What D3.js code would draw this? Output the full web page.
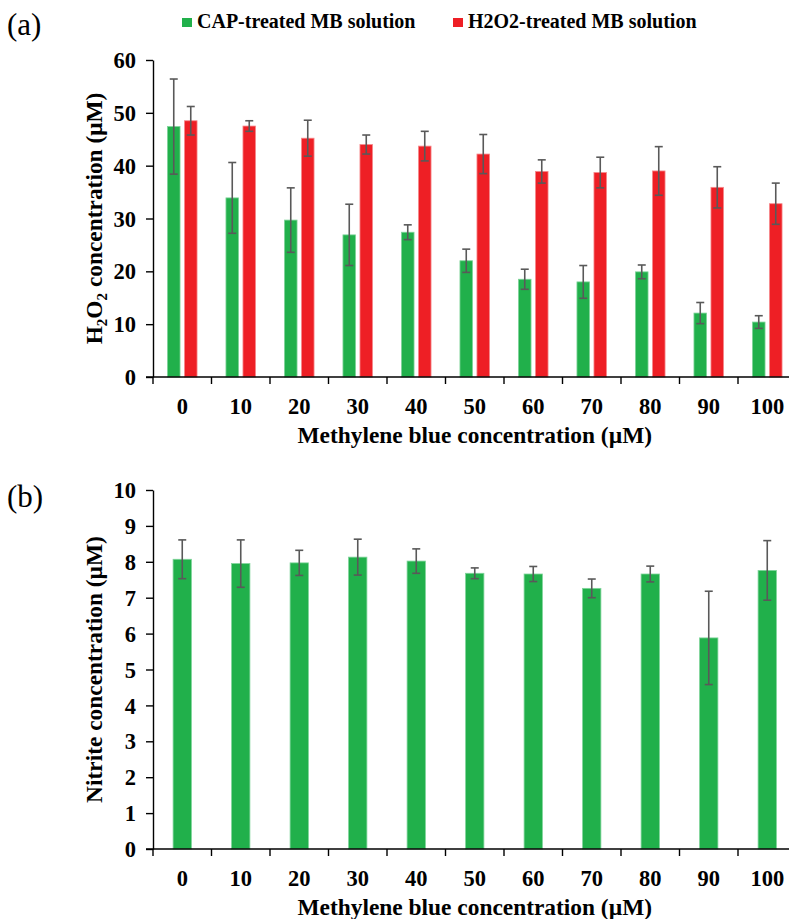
<!DOCTYPE html>
<html>
<head>
<meta charset="utf-8">
<script src="https://cdn.jsdelivr.net/npm/d3@7"></script>
<style>
  html, body { margin: 0; padding: 0; background: #fff; }
  svg { display: block; }
  text { font-family: "Liberation Serif", "Times New Roman", serif; }
</style>
</head>
<body>
<svg id="chart" width="789" height="919"></svg>
<script>
// ---------- DATA ----------
const categories = ["0", "10", "20", "30", "40", "50", "60", "70", "80", "90", "100"];
const seriesNames = ["CAP-treated MB solution", "H2O2-treated MB solution"];
const capH2O2 = [47.4, 33.9, 29.7, 26.9, 27.4, 22.0, 18.5, 18.0, 19.9, 12.1, 10.4];
const capH2O2Err = [9.0, 6.7, 6.1, 5.8, 1.4, 2.2, 1.9, 3.1, 1.3, 2.0, 1.2];
const h2o2H2O2 = [48.5, 47.5, 45.2, 44.0, 43.7, 42.2, 38.9, 38.7, 39.0, 35.9, 32.8];
const h2o2H2O2Err = [2.7, 1.0, 3.4, 1.8, 2.8, 3.7, 2.2, 2.9, 4.6, 3.9, 3.9];
const nitrite = [8.07, 7.95, 7.97, 8.13, 8.02, 7.68, 7.66, 7.26, 7.66, 5.88, 7.76];
const nitriteErr = [0.54, 0.66, 0.35, 0.50, 0.34, 0.15, 0.21, 0.26, 0.22, 1.30, 0.83];
const ticksA = [0, 10, 20, 30, 40, 50, 60];
const ticksB = [0, 1, 2, 3, 4, 5, 6, 7, 8, 9, 10];

// ---------- STYLE ----------
const GREEN = "#21B04B", RED = "#EE1F25", ERR = "#595959";
const svg = d3.select("#chart");
const left = 153, right = 796.5;

function drawPanel(cfg) {
  const g = svg.append("g");
  const x0 = d3.scaleBand().domain(categories).range([left, right]).padding(0);
  const y = d3.scaleLinear().domain(cfg.domain).range([cfg.bottom, cfg.top]);
  const x1 = d3.scaleBand().domain(cfg.series.map(s => s.name)).range([0, x0.bandwidth()])
    .paddingInner(cfg.pi).paddingOuter(cfg.po);

  cfg.series.forEach(s => {
    const gs = g.append("g");
    gs.selectAll("rect").data(categories).join("rect")
      .attr("x", d => x0(d) + x1(s.name))
      .attr("width", x1.bandwidth())
      .attr("y", (d, i) => y(s.values[i]))
      .attr("height", (d, i) => y(0) - y(s.values[i]))
      .attr("fill", s.color)
      .attr("stroke", s.edge).attr("stroke-width", 0.8);
    const cx = d => x0(d) + x1(s.name) + x1.bandwidth() / 2;
    gs.selectAll("line.v").data(categories).join("line").attr("class", "v")
      .attr("x1", cx).attr("x2", cx)
      .attr("y1", (d, i) => y(s.values[i] + s.err[i]))
      .attr("y2", (d, i) => y(s.values[i] - s.err[i]))
      .attr("stroke", ERR).attr("stroke-width", 1.6);
    [1, -1].forEach(sign => {
      gs.selectAll("line.c" + sign).data(categories).join("line").attr("class", "c" + sign)
        .attr("x1", d => cx(d) - 4).attr("x2", d => cx(d) + 4)
        .attr("y1", (d, i) => y(s.values[i] + sign * s.err[i]))
        .attr("y2", (d, i) => y(s.values[i] + sign * s.err[i]))
        .attr("stroke", ERR).attr("stroke-width", 1.6);
    });
  });

  const ya = g.append("g").attr("transform", `translate(${left},0)`)
    .call(d3.axisLeft(y).tickValues(cfg.ticks).tickSize(7).tickPadding(10).tickSizeOuter(0));
  ya.select(".domain").attr("stroke", "#000").attr("stroke-width", 1.4);
  ya.selectAll(".tick line").attr("stroke", "#000").attr("stroke-width", 1.4);
  ya.selectAll(".tick text").attr("font-family", "Liberation Serif, serif")
    .attr("font-weight", "bold").attr("font-size", 22.5).attr("fill", "#000").attr("dy", "0.34em");

  const xa = g.append("g").attr("transform", `translate(0,${y(0)})`)
    .call(d3.axisBottom(x0).tickSize(0).tickPadding(21).tickSizeOuter(0));
  xa.select(".domain").remove();
  xa.selectAll(".tick text").attr("font-family", "Liberation Serif, serif")
    .attr("font-weight", "bold").attr("font-size", 22.5).attr("fill", "#000");
  g.append("line").attr("x1", left - 7).attr("x2", right).attr("y1", y(0)).attr("y2", y(0))
    .attr("stroke", "#000").attr("stroke-width", 1.4);
  const bounds = categories.map(d => x0(d)).concat([x0(categories[categories.length - 1]) + x0.bandwidth()]);
  g.selectAll("line.bt").data(bounds).join("line").attr("class", "bt")
    .attr("x1", d => d).attr("x2", d => d).attr("y1", y(0)).attr("y2", y(0) + 7)
    .attr("stroke", "#000").attr("stroke-width", 1.4);

  g.append("text").attr("x", (left + right) / 2).attr("y", cfg.xTitleY)
    .attr("text-anchor", "middle").attr("font-weight", "bold").attr("font-size", 23.4)
    .text("Methylene blue concentration (\u00B5M)");

  const yt = g.append("text")
    .attr("transform", `translate(102,${(cfg.top + cfg.bottom) / 2}) rotate(-90)`)
    .attr("text-anchor", "middle").attr("font-weight", "bold").attr("font-size", 23.4);
  cfg.yTitle(yt);

  svg.append("text").attr("x", 7).attr("y", cfg.labelY).attr("font-size", 31)
    .text(cfg.label);
}

drawPanel({
  domain: [0, 60], top: 60, bottom: 377, ticks: ticksA, pi: 0.26, po: 0.85,
  series: [
    { name: seriesNames[0], values: capH2O2, err: capH2O2Err, color: GREEN, edge: "#7fd49a" },
    { name: seriesNames[1], values: h2o2H2O2, err: h2o2H2O2Err, color: RED, edge: "#f58a8d" }
  ],
  xTitleY: 443, labelY: 35, label: "(a)",
  yTitle: t => {
    t.append("tspan").text("H");
    t.append("tspan").attr("font-size", 15).attr("dy", 5).text("2");
    t.append("tspan").attr("dy", -5).text("O");
    t.append("tspan").attr("font-size", 15).attr("dy", 5).text("2");
    t.append("tspan").attr("dy", -5).text(" concentration (\u03BCM)");
  }
});

drawPanel({
  domain: [0, 10], top: 490, bottom: 849, ticks: ticksB, pi: 0.687, po: 0.3435,
  series: [
    { name: seriesNames[0], values: nitrite, err: nitriteErr, color: GREEN, edge: "#7fd49a" }
  ],
  xTitleY: 915, labelY: 507, label: "(b)",
  yTitle: t => t.text("Nitrite concentration (\u00B5M)")
});

const legend = svg.append("g");
const legendItems = [
  { name: seriesNames[0], color: GREEN, x: 182 },
  { name: seriesNames[1], color: RED, x: 453 }
];
legendItems.forEach(it => {
  legend.append("rect").attr("x", it.x).attr("y", 18).attr("width", 10).attr("height", 9)
    .attr("fill", it.color);
  legend.append("text").attr("x", it.x + 15).attr("y", 28).attr("font-weight", "bold")
    .attr("font-size", 20).text(it.name);
});
</script>
</body>
</html>
